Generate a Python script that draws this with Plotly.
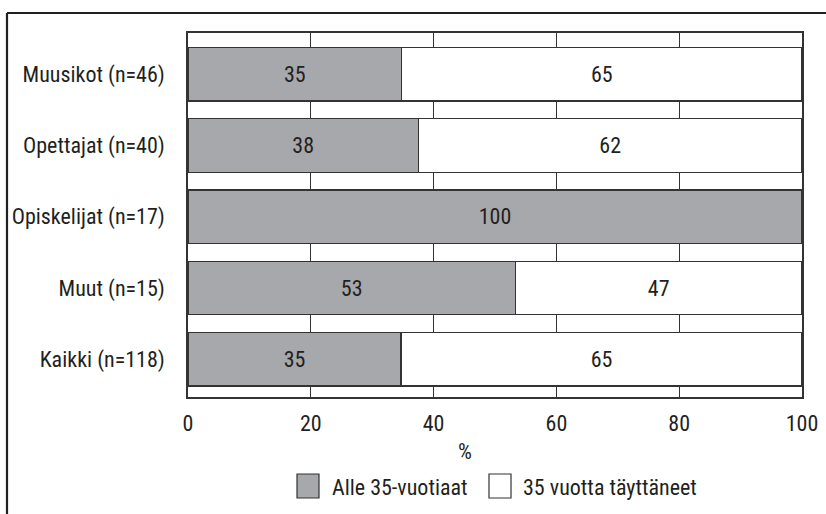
import plotly.graph_objects as go

categories = ["Muusikot (n=46)", "Opettajat (n=40)", "Opiskelijat (n=17)", "Muut (n=15)", "Kaikki (n=118)"]
under35 = [34.8, 37.5, 100, 53.3, 34.7]
over35 = [65.2, 62.5, 0, 46.7, 65.3]
under35_labels = ["35", "38", "100", "53", "35"]
over35_labels = ["65", "62", "", "47", "65"]
series_names = ["Alle 35-vuotiaat", "35 vuotta täyttäneet"]
x_ticks = [0, 20, 40, 60, 80, 100]
x_title = "%"

FONT = "Roboto Condensed, DejaVu Sans Condensed, sans-serif"
FS = 22
TXT = "#231f20"
GRAY = "#a7a8ab"
LINE = "#333333"

W, H = 826, 514
L, R, T, B = 188, 24, 33, 117
pw, ph = W - L - R, H - T - B

def px(x):
    return (x - L) / pw

def py(y):
    return (H - B - y) / ph

fig = go.Figure()
for name, vals, labels, col in [(series_names[0], under35, under35_labels, GRAY),
                                (series_names[1], over35, over35_labels, "white")]:
    fig.add_trace(go.Bar(
        y=categories, x=vals, orientation="h", name=name,
        marker=dict(color=col, line=dict(color=LINE, width=1.2)),
        text=labels,
        textposition="inside", insidetextanchor="middle",
        textfont=dict(family=FONT, size=FS, color=TXT),
        constraintext="none",
        showlegend=False, hoverinfo="skip",
    ))

fig.update_layout(
    barmode="stack", bargap=0.25,
    width=W, height=H,
    margin=dict(l=L, r=R, t=T, b=B, autoexpand=False),
    paper_bgcolor="white", plot_bgcolor="white",
    font=dict(family=FONT, size=FS, color=TXT),
)
fig.update_xaxes(
    range=[0, 100], tickvals=x_ticks, ticktext=[str(v) for v in x_ticks],
    showgrid=True, gridcolor=LINE, gridwidth=1.2,
    showline=True, mirror=True, linecolor=LINE, linewidth=1.5,
    ticks="outside", ticklen=6, tickcolor="rgba(0,0,0,0)",
    zeroline=False, tickfont=dict(family=FONT, size=FS, color=TXT),
)
fig.update_yaxes(
    categoryorder="array", categoryarray=categories,
    range=[4.53, -0.58],
    showgrid=False, showline=True, mirror=True, linecolor=LINE, linewidth=1.5,
    ticks="outside", ticklen=17, tickcolor="rgba(0,0,0,0)",
    tickfont=dict(family=FONT, size=FS, color=TXT),
)

# axis title
fig.add_annotation(xref="paper", yref="paper", x=px(465), y=py(452), text=x_title,
                   showarrow=False, font=dict(family=FONT, size=FS, color=TXT),
                   xanchor="center", yanchor="middle")

# legend (manual, larger swatches)
legend_items = [(series_names[0], GRAY, 297, 330), (series_names[1], "white", 489, 521)]
for name, col, sx, tx in legend_items:
    fig.add_shape(type="rect", xref="paper", yref="paper",
                  x0=px(sx), x1=px(sx + 22), y0=py(498), y1=py(474),
                  fillcolor=col, line=dict(color=LINE, width=1.2))
    fig.add_annotation(xref="paper", yref="paper", x=px(tx), y=py(487), text=name,
                       showarrow=False, font=dict(family=FONT, size=FS, color=TXT),
                       xanchor="left", yanchor="middle")

# outer frame (left and top edges)
fig.add_shape(type="line", xref="paper", yref="paper", x0=px(7), x1=px(7), y0=py(13), y1=py(520),
              line=dict(color="#231f20", width=2.2))
fig.add_shape(type="line", xref="paper", yref="paper", x0=px(7), x1=px(830), y0=py(13), y1=py(13),
              line=dict(color="#231f20", width=2.2))

fig.write_html("out.html", config={"displayModeBar": False},
               post_script="document.body.style.margin='0px';")
